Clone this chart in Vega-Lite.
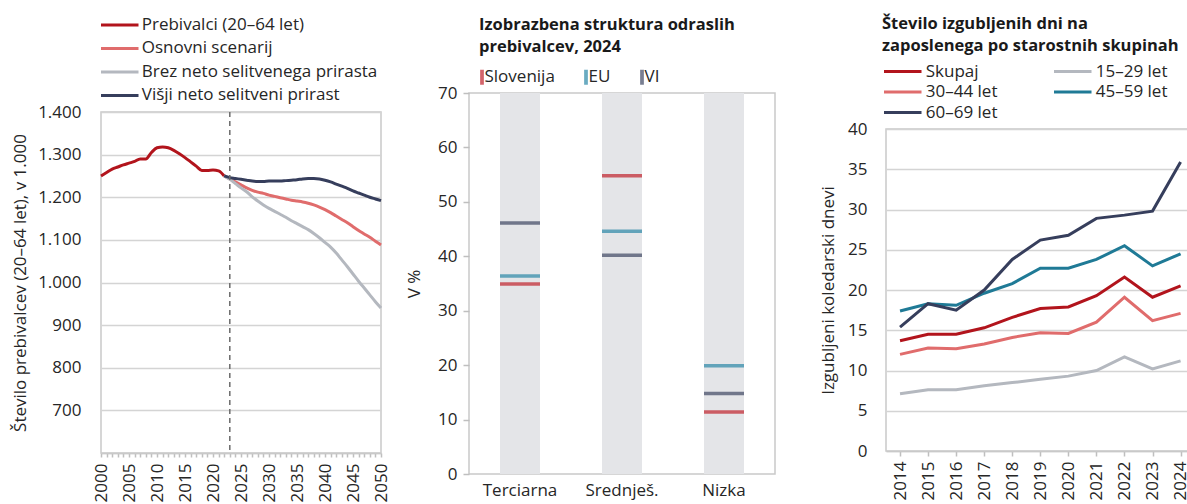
{
  "$schema": "https://vega.github.io/schema/vega-lite/v6.json",
  "padding": {"left": 10, "top": 15, "right": 0, "bottom": 0},
  "background": "white",
  "resolve": {"scale": {"color": "independent", "x": "independent", "y": "independent"}, "legend": {"color": "independent"}},
  "config": {
    "font": "Open Sans",
    "view": {"stroke": "#c9c9c9", "strokeWidth": 1.5},
    "axis": {"labelFont": "Open Sans", "labelFontSize": 17, "labelColor": "#262626", "titleFont": "Open Sans", "titleFontSize": 17, "titleFontWeight": "normal", "titleColor": "#262626", "gridColor": "#d4d4d4", "gridWidth": 1.5, "domain": false, "tickColor": "#bfbfbf", "tickWidth": 1.5},
    "axisX": {"labelOverlap": false},
    "legend": {"labelFont": "Open Sans", "labelFontSize": 17, "labelColor": "#262626", "padding": 0, "labelLimit": 400, "titleFont": "Open Sans", "titleFontSize": 16.5, "titleFontWeight": "bold", "titleColor": "#1a1a1a", "titleLimit": 400, "titleLineHeight": 22, "titleAnchor": "start", "titleOrient": "top"}
  },
  "spacing": 14,
  "hconcat": [
    {
      "spacing": 20,
      "vconcat": [
        {"width": 1, "height": 1, "view": {"stroke": null}, "data": {"values": [{"a": 0}]}, "mark": {"type": "point", "size": 0, "opacity": 0}, "encoding": {}},
        {
          "width": 280,
          "height": 341,
          "layer": [
            {
              "data": {"values": [
                {"leto": 2000, "serija": "Prebivalci (20–64 let)", "vrednost": 1250},
                {"leto": 2001, "serija": "Prebivalci (20–64 let)", "vrednost": 1258},
                {"leto": 2002, "serija": "Prebivalci (20–64 let)", "vrednost": 1266},
                {"leto": 2003, "serija": "Prebivalci (20–64 let)", "vrednost": 1271},
                {"leto": 2004, "serija": "Prebivalci (20–64 let)", "vrednost": 1276},
                {"leto": 2005, "serija": "Prebivalci (20–64 let)", "vrednost": 1280},
                {"leto": 2006, "serija": "Prebivalci (20–64 let)", "vrednost": 1284},
                {"leto": 2007, "serija": "Prebivalci (20–64 let)", "vrednost": 1290},
                {"leto": 2008, "serija": "Prebivalci (20–64 let)", "vrednost": 1290},
                {"leto": 2009, "serija": "Prebivalci (20–64 let)", "vrednost": 1305},
                {"leto": 2010, "serija": "Prebivalci (20–64 let)", "vrednost": 1316},
                {"leto": 2011, "serija": "Prebivalci (20–64 let)", "vrednost": 1318},
                {"leto": 2012, "serija": "Prebivalci (20–64 let)", "vrednost": 1316},
                {"leto": 2013, "serija": "Prebivalci (20–64 let)", "vrednost": 1310},
                {"leto": 2014, "serija": "Prebivalci (20–64 let)", "vrednost": 1302},
                {"leto": 2015, "serija": "Prebivalci (20–64 let)", "vrednost": 1293},
                {"leto": 2016, "serija": "Prebivalci (20–64 let)", "vrednost": 1283},
                {"leto": 2017, "serija": "Prebivalci (20–64 let)", "vrednost": 1273},
                {"leto": 2018, "serija": "Prebivalci (20–64 let)", "vrednost": 1263},
                {"leto": 2019, "serija": "Prebivalci (20–64 let)", "vrednost": 1263},
                {"leto": 2020, "serija": "Prebivalci (20–64 let)", "vrednost": 1264},
                {"leto": 2021, "serija": "Prebivalci (20–64 let)", "vrednost": 1262},
                {"leto": 2022, "serija": "Prebivalci (20–64 let)", "vrednost": 1250},
                {"leto": 2022, "serija": "Osnovni scenarij", "vrednost": 1250},
                {"leto": 2023, "serija": "Osnovni scenarij", "vrednost": 1243},
                {"leto": 2024, "serija": "Osnovni scenarij", "vrednost": 1236},
                {"leto": 2025, "serija": "Osnovni scenarij", "vrednost": 1229},
                {"leto": 2026, "serija": "Osnovni scenarij", "vrednost": 1222},
                {"leto": 2027, "serija": "Osnovni scenarij", "vrednost": 1216},
                {"leto": 2028, "serija": "Osnovni scenarij", "vrednost": 1212},
                {"leto": 2029, "serija": "Osnovni scenarij", "vrednost": 1209},
                {"leto": 2030, "serija": "Osnovni scenarij", "vrednost": 1205},
                {"leto": 2031, "serija": "Osnovni scenarij", "vrednost": 1202},
                {"leto": 2032, "serija": "Osnovni scenarij", "vrednost": 1199},
                {"leto": 2033, "serija": "Osnovni scenarij", "vrednost": 1196},
                {"leto": 2034, "serija": "Osnovni scenarij", "vrednost": 1193},
                {"leto": 2035, "serija": "Osnovni scenarij", "vrednost": 1191},
                {"leto": 2036, "serija": "Osnovni scenarij", "vrednost": 1189},
                {"leto": 2037, "serija": "Osnovni scenarij", "vrednost": 1186},
                {"leto": 2038, "serija": "Osnovni scenarij", "vrednost": 1182},
                {"leto": 2039, "serija": "Osnovni scenarij", "vrednost": 1177},
                {"leto": 2040, "serija": "Osnovni scenarij", "vrednost": 1171},
                {"leto": 2041, "serija": "Osnovni scenarij", "vrednost": 1164},
                {"leto": 2042, "serija": "Osnovni scenarij", "vrednost": 1156},
                {"leto": 2043, "serija": "Osnovni scenarij", "vrednost": 1148},
                {"leto": 2044, "serija": "Osnovni scenarij", "vrednost": 1140},
                {"leto": 2045, "serija": "Osnovni scenarij", "vrednost": 1131},
                {"leto": 2046, "serija": "Osnovni scenarij", "vrednost": 1122},
                {"leto": 2047, "serija": "Osnovni scenarij", "vrednost": 1114},
                {"leto": 2048, "serija": "Osnovni scenarij", "vrednost": 1106},
                {"leto": 2049, "serija": "Osnovni scenarij", "vrednost": 1097},
                {"leto": 2050, "serija": "Osnovni scenarij", "vrednost": 1088},
                {"leto": 2022, "serija": "Brez neto selitvenega prirasta", "vrednost": 1250},
                {"leto": 2023, "serija": "Brez neto selitvenega prirasta", "vrednost": 1242},
                {"leto": 2024, "serija": "Brez neto selitvenega prirasta", "vrednost": 1232},
                {"leto": 2025, "serija": "Brez neto selitvenega prirasta", "vrednost": 1222},
                {"leto": 2026, "serija": "Brez neto selitvenega prirasta", "vrednost": 1213},
                {"leto": 2027, "serija": "Brez neto selitvenega prirasta", "vrednost": 1201},
                {"leto": 2028, "serija": "Brez neto selitvenega prirasta", "vrednost": 1191},
                {"leto": 2029, "serija": "Brez neto selitvenega prirasta", "vrednost": 1182},
                {"leto": 2030, "serija": "Brez neto selitvenega prirasta", "vrednost": 1174},
                {"leto": 2031, "serija": "Brez neto selitvenega prirasta", "vrednost": 1167},
                {"leto": 2032, "serija": "Brez neto selitvenega prirasta", "vrednost": 1160},
                {"leto": 2033, "serija": "Brez neto selitvenega prirasta", "vrednost": 1153},
                {"leto": 2034, "serija": "Brez neto selitvenega prirasta", "vrednost": 1145},
                {"leto": 2035, "serija": "Brez neto selitvenega prirasta", "vrednost": 1138},
                {"leto": 2036, "serija": "Brez neto selitvenega prirasta", "vrednost": 1131},
                {"leto": 2037, "serija": "Brez neto selitvenega prirasta", "vrednost": 1124},
                {"leto": 2038, "serija": "Brez neto selitvenega prirasta", "vrednost": 1115},
                {"leto": 2039, "serija": "Brez neto selitvenega prirasta", "vrednost": 1105},
                {"leto": 2040, "serija": "Brez neto selitvenega prirasta", "vrednost": 1094},
                {"leto": 2041, "serija": "Brez neto selitvenega prirasta", "vrednost": 1083},
                {"leto": 2042, "serija": "Brez neto selitvenega prirasta", "vrednost": 1069},
                {"leto": 2043, "serija": "Brez neto selitvenega prirasta", "vrednost": 1053},
                {"leto": 2044, "serija": "Brez neto selitvenega prirasta", "vrednost": 1037},
                {"leto": 2045, "serija": "Brez neto selitvenega prirasta", "vrednost": 1020},
                {"leto": 2046, "serija": "Brez neto selitvenega prirasta", "vrednost": 1003},
                {"leto": 2047, "serija": "Brez neto selitvenega prirasta", "vrednost": 987},
                {"leto": 2048, "serija": "Brez neto selitvenega prirasta", "vrednost": 971},
                {"leto": 2049, "serija": "Brez neto selitvenega prirasta", "vrednost": 955},
                {"leto": 2050, "serija": "Brez neto selitvenega prirasta", "vrednost": 940},
                {"leto": 2022, "serija": "Višji neto selitveni prirast", "vrednost": 1250},
                {"leto": 2023, "serija": "Višji neto selitveni prirast", "vrednost": 1246},
                {"leto": 2024, "serija": "Višji neto selitveni prirast", "vrednost": 1244},
                {"leto": 2025, "serija": "Višji neto selitveni prirast", "vrednost": 1242},
                {"leto": 2026, "serija": "Višji neto selitveni prirast", "vrednost": 1240},
                {"leto": 2027, "serija": "Višji neto selitveni prirast", "vrednost": 1238},
                {"leto": 2028, "serija": "Višji neto selitveni prirast", "vrednost": 1237},
                {"leto": 2029, "serija": "Višji neto selitveni prirast", "vrednost": 1237},
                {"leto": 2030, "serija": "Višji neto selitveni prirast", "vrednost": 1238},
                {"leto": 2031, "serija": "Višji neto selitveni prirast", "vrednost": 1238},
                {"leto": 2032, "serija": "Višji neto selitveni prirast", "vrednost": 1238},
                {"leto": 2033, "serija": "Višji neto selitveni prirast", "vrednost": 1239},
                {"leto": 2034, "serija": "Višji neto selitveni prirast", "vrednost": 1240},
                {"leto": 2035, "serija": "Višji neto selitveni prirast", "vrednost": 1241},
                {"leto": 2036, "serija": "Višji neto selitveni prirast", "vrednost": 1243},
                {"leto": 2037, "serija": "Višji neto selitveni prirast", "vrednost": 1244},
                {"leto": 2038, "serija": "Višji neto selitveni prirast", "vrednost": 1244},
                {"leto": 2039, "serija": "Višji neto selitveni prirast", "vrednost": 1243},
                {"leto": 2040, "serija": "Višji neto selitveni prirast", "vrednost": 1240},
                {"leto": 2041, "serija": "Višji neto selitveni prirast", "vrednost": 1236},
                {"leto": 2042, "serija": "Višji neto selitveni prirast", "vrednost": 1231},
                {"leto": 2043, "serija": "Višji neto selitveni prirast", "vrednost": 1226},
                {"leto": 2044, "serija": "Višji neto selitveni prirast", "vrednost": 1221},
                {"leto": 2045, "serija": "Višji neto selitveni prirast", "vrednost": 1215},
                {"leto": 2046, "serija": "Višji neto selitveni prirast", "vrednost": 1210},
                {"leto": 2047, "serija": "Višji neto selitveni prirast", "vrednost": 1205},
                {"leto": 2048, "serija": "Višji neto selitveni prirast", "vrednost": 1200},
                {"leto": 2049, "serija": "Višji neto selitveni prirast", "vrednost": 1196},
                {"leto": 2050, "serija": "Višji neto selitveni prirast", "vrednost": 1192}
              ]},
              "mark": {"type": "line", "strokeWidth": 3, "interpolate": "monotone"},
              "encoding": {
                "x": {"field": "leto", "type": "quantitative", "scale": {"domain": [2000, 2050], "nice": false, "zero": false},
                  "axis": {"title": null, "grid": false, "values": [2000,2001,2002,2003,2004,2005,2006,2007,2008,2009,2010,2011,2012,2013,2014,2015,2016,2017,2018,2019,2020,2021,2022,2023,2024,2025,2026,2027,2028,2029,2030,2031,2032,2033,2034,2035,2036,2037,2038,2039,2040,2041,2042,2043,2044,2045,2046,2047,2048,2049,2050],
                    "labelExpr": "datum.value % 5 === 0 ? '' + datum.value : ''", "labelAngle": 270, "tickSize": 4, "labelPadding": 6, "labelFlush": false, "labelOverlap": false, "labelBound": false, "domain": true, "domainColor": "#c9c9c9", "domainWidth": 1.5}},
                "y": {"field": "vrednost", "type": "quantitative", "scale": {"domain": [600, 1400], "nice": false, "zero": false},
                  "axis": {"title": "Število prebivalcev (20–64 let), v 1.000", "values": [600,700,800,900,1000,1100,1200,1300,1400], "labelExpr": "datum.value == 600 ? '' : replace(format(datum.value, ','), ',', '.')", "ticks": false, "labelPadding": 20, "titlePadding": 8, "grid": true}},
                "color": {"field": "serija", "type": "nominal",
                  "scale": {"domain": ["Prebivalci (20–64 let)", "Osnovni scenarij", "Brez neto selitvenega prirasta", "Višji neto selitveni prirast"], "range": ["#b2141c", "#e06c6c", "#b4b8bf", "#363e5c"]},
                  "legend": {"title": null, "orient": "none", "legendX": 0, "legendY": -65.1, "direction": "vertical", "symbolType": "M-2.5,0H2.5", "symbolSize": 225, "symbolStrokeWidth": 3, "symbolOffset": 9.75, "labelOffset": 13, "rowPadding": 6.5}}
              }
            },
            {
              "data": {"values": [{"leto": 2023}]},
              "mark": {"type": "rule", "strokeDash": [5, 4], "color": "#6b6b6b", "strokeWidth": 1.5},
              "encoding": {"x": {"field": "leto", "type": "quantitative",
                "axis": {"title": null, "grid": false, "values": [2000,2001,2002,2003,2004,2005,2006,2007,2008,2009,2010,2011,2012,2013,2014,2015,2016,2017,2018,2019,2020,2021,2022,2023,2024,2025,2026,2027,2028,2029,2030,2031,2032,2033,2034,2035,2036,2037,2038,2039,2040,2041,2042,2043,2044,2045,2046,2047,2048,2049,2050],
                  "labelExpr": "datum.value % 5 === 0 ? '' + datum.value : ''", "labelAngle": 270, "tickSize": 4, "labelPadding": 6, "labelFlush": false, "labelOverlap": false, "labelBound": false, "domain": true, "domainColor": "#c9c9c9", "domainWidth": 1.5}}}
            }
          ]
        }
      ]
    },
    {
      "spacing": 1,
      "vconcat": [
        {"width": 335, "height": 1, "view": {"stroke": null}, "data": {"values": [{"a": 0}]}, "mark": {"type": "point", "size": 0, "opacity": 0}, "encoding": {}},
        {
          "width": 306,
          "height": 381,
          "data": {"values": [
            {"kategorija": "Terciarna", "skupina": "Slovenija", "vrednost": 34.9},
            {"kategorija": "Terciarna", "skupina": "EU", "vrednost": 36.4},
            {"kategorija": "Terciarna", "skupina": "VI", "vrednost": 46.1},
            {"kategorija": "Srednješ.", "skupina": "Slovenija", "vrednost": 54.8},
            {"kategorija": "Srednješ.", "skupina": "EU", "vrednost": 44.6},
            {"kategorija": "Srednješ.", "skupina": "VI", "vrednost": 40.2},
            {"kategorija": "Nizka", "skupina": "Slovenija", "vrednost": 11.4},
            {"kategorija": "Nizka", "skupina": "EU", "vrednost": 19.9},
            {"kategorija": "Nizka", "skupina": "VI", "vrednost": 14.8}
          ]},
          "encoding": {
            "x": {"field": "kategorija", "type": "nominal", "sort": ["Terciarna", "Srednješ.", "Nizka"], "scale": {"paddingInner": 0.608, "paddingOuter": 0.304},
              "axis": {"title": null, "labelAngle": 0, "ticks": false, "labelPadding": 8, "domain": false}}
          },
          "layer": [
            {
              "mark": {"type": "bar", "color": "#e4e5e8"},
              "encoding": {
                "y": {"datum": 70, "type": "quantitative", "scale": {"domain": [0, 70], "nice": false},
                  "axis": {"title": "V %", "values": [0,10,20,30,40,50,60,70], "grid": false, "ticks": true, "tickSize": 6, "labelPadding": 6, "titlePadding": 14}}
              }
            },
            {
              "mark": {"type": "tick", "thickness": 3.5, "size": 40},
              "encoding": {
                "y": {"field": "vrednost", "type": "quantitative", "title": "V %"},
                "color": {"field": "skupina", "type": "nominal",
                  "scale": {"domain": ["Slovenija", "EU", "VI"], "range": ["#c0222c", "#2b88a6", "#3f4763"]},
                  "legend": {"title": ["Izobrazbena struktura odraslih", "prebivalcev, 2024"], "titlePadding": 13, "orient": "none", "legendX": 10, "legendY": -64, "direction": "horizontal", "symbolType": "M-0.25,-1H0.25V1H-0.25Z", "symbolSize": 225, "symbolStrokeWidth": 0, "symbolOffset": -5.5, "labelOffset": -6, "columnPadding": 28}}
              }
            }
          ]
        }
      ]
    },
    {
      "spacing": 37,
      "vconcat": [
        {"width": 1, "height": 1, "view": {"stroke": null}, "data": {"values": [{"a": 0}]}, "mark": {"type": "point", "size": 0, "opacity": 0}, "encoding": {}},
        {
          "width": 303,
          "height": 322,
          "data": {"values": [
            {"leto": 2014, "skupina": "Skupaj", "dnevi": 13.7},
            {"leto": 2015, "skupina": "Skupaj", "dnevi": 14.5},
            {"leto": 2016, "skupina": "Skupaj", "dnevi": 14.5},
            {"leto": 2017, "skupina": "Skupaj", "dnevi": 15.3},
            {"leto": 2018, "skupina": "Skupaj", "dnevi": 16.6},
            {"leto": 2019, "skupina": "Skupaj", "dnevi": 17.7},
            {"leto": 2020, "skupina": "Skupaj", "dnevi": 17.9},
            {"leto": 2021, "skupina": "Skupaj", "dnevi": 19.3},
            {"leto": 2022, "skupina": "Skupaj", "dnevi": 21.6},
            {"leto": 2023, "skupina": "Skupaj", "dnevi": 19.1},
            {"leto": 2024, "skupina": "Skupaj", "dnevi": 20.5},
            {"leto": 2014, "skupina": "15–29 let", "dnevi": 7.1},
            {"leto": 2015, "skupina": "15–29 let", "dnevi": 7.6},
            {"leto": 2016, "skupina": "15–29 let", "dnevi": 7.6},
            {"leto": 2017, "skupina": "15–29 let", "dnevi": 8.1},
            {"leto": 2018, "skupina": "15–29 let", "dnevi": 8.5},
            {"leto": 2019, "skupina": "15–29 let", "dnevi": 8.9},
            {"leto": 2020, "skupina": "15–29 let", "dnevi": 9.3},
            {"leto": 2021, "skupina": "15–29 let", "dnevi": 10.0},
            {"leto": 2022, "skupina": "15–29 let", "dnevi": 11.7},
            {"leto": 2023, "skupina": "15–29 let", "dnevi": 10.2},
            {"leto": 2024, "skupina": "15–29 let", "dnevi": 11.2},
            {"leto": 2014, "skupina": "30–44 let", "dnevi": 12.0},
            {"leto": 2015, "skupina": "30–44 let", "dnevi": 12.8},
            {"leto": 2016, "skupina": "30–44 let", "dnevi": 12.7},
            {"leto": 2017, "skupina": "30–44 let", "dnevi": 13.3},
            {"leto": 2018, "skupina": "30–44 let", "dnevi": 14.1},
            {"leto": 2019, "skupina": "30–44 let", "dnevi": 14.7},
            {"leto": 2020, "skupina": "30–44 let", "dnevi": 14.6},
            {"leto": 2021, "skupina": "30–44 let", "dnevi": 16.0},
            {"leto": 2022, "skupina": "30–44 let", "dnevi": 19.1},
            {"leto": 2023, "skupina": "30–44 let", "dnevi": 16.2},
            {"leto": 2024, "skupina": "30–44 let", "dnevi": 17.1},
            {"leto": 2014, "skupina": "45–59 let", "dnevi": 17.4},
            {"leto": 2015, "skupina": "45–59 let", "dnevi": 18.3},
            {"leto": 2016, "skupina": "45–59 let", "dnevi": 18.1},
            {"leto": 2017, "skupina": "45–59 let", "dnevi": 19.6},
            {"leto": 2018, "skupina": "45–59 let", "dnevi": 20.8},
            {"leto": 2019, "skupina": "45–59 let", "dnevi": 22.7},
            {"leto": 2020, "skupina": "45–59 let", "dnevi": 22.7},
            {"leto": 2021, "skupina": "45–59 let", "dnevi": 23.8},
            {"leto": 2022, "skupina": "45–59 let", "dnevi": 25.5},
            {"leto": 2023, "skupina": "45–59 let", "dnevi": 23.0},
            {"leto": 2024, "skupina": "45–59 let", "dnevi": 24.5},
            {"leto": 2014, "skupina": "60–69 let", "dnevi": 15.4},
            {"leto": 2015, "skupina": "60–69 let", "dnevi": 18.3},
            {"leto": 2016, "skupina": "60–69 let", "dnevi": 17.5},
            {"leto": 2017, "skupina": "60–69 let", "dnevi": 20.0},
            {"leto": 2018, "skupina": "60–69 let", "dnevi": 23.8},
            {"leto": 2019, "skupina": "60–69 let", "dnevi": 26.2},
            {"leto": 2020, "skupina": "60–69 let", "dnevi": 26.8},
            {"leto": 2021, "skupina": "60–69 let", "dnevi": 28.9},
            {"leto": 2022, "skupina": "60–69 let", "dnevi": 29.3},
            {"leto": 2023, "skupina": "60–69 let", "dnevi": 29.8},
            {"leto": 2024, "skupina": "60–69 let", "dnevi": 35.9}
          ]},
          "mark": {"type": "line", "strokeWidth": 3},
          "encoding": {
            "x": {"field": "leto", "type": "quantitative", "scale": {"domain": [2013.5, 2024.3], "nice": false, "zero": false},
              "axis": {"title": null, "grid": false, "values": [2014,2015,2016,2017,2018,2019,2020,2021,2022,2023,2024], "format": "d", "labelAngle": 270, "tickSize": 5, "labelPadding": 5, "labelFlush": false, "labelOverlap": false, "domain": true, "domainColor": "#c9c9c9", "domainWidth": 1.5}},
            "y": {"field": "dnevi", "type": "quantitative", "scale": {"domain": [0, 40], "nice": false},
              "axis": {"title": "Izgubljeni koledarski dnevi", "values": [0,5,10,15,20,25,30,35,40], "ticks": false, "labelPadding": 19, "titlePadding": 10, "grid": true}},
            "color": {"field": "skupina", "type": "nominal",
              "scale": {"domain": ["Skupaj", "15–29 let", "30–44 let", "45–59 let", "60–69 let"], "range": ["#b2141c", "#b4b8bf", "#e06c6c", "#1f7a96", "#363e5c"]},
              "legend": {"title": ["Število izgubljenih dni na", "zaposlenega po starostnih skupinah"], "titlePadding": 8, "orient": "none", "legendX": -4, "legendY": -65, "direction": "horizontal", "columns": 2, "symbolType": "M-2.5,0H2.5", "symbolSize": 225, "symbolStrokeWidth": 3, "symbolOffset": 11.75, "labelOffset": 14, "rowPadding": 3.5, "columnPadding": 50}}
          }
        }
      ]
    }
  ]
}
